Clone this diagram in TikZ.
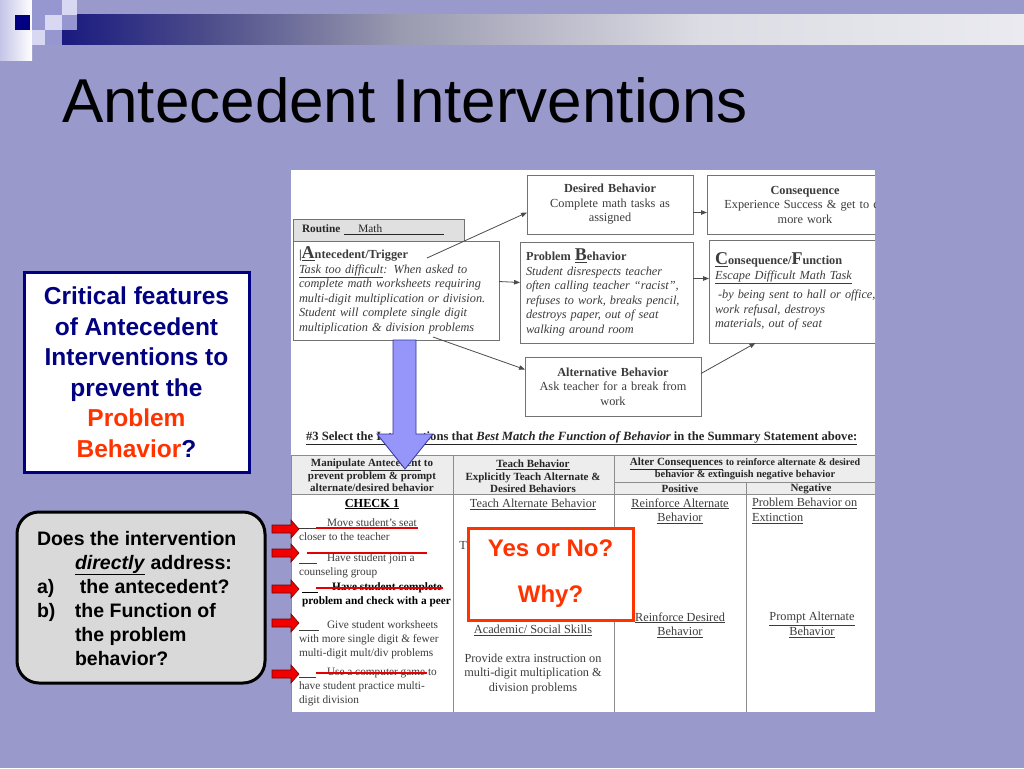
\documentclass[tikz,border=0pt]{standalone}
\usepackage{fontspec}
\setmainfont{Liberation Sans}
\newfontfamily\sheetserif[Ligatures=TeX]{Liberation Serif}
\usetikzlibrary{arrows.meta}

\definecolor{slidebg}{RGB}{153,153,204}
\definecolor{navytxt}{RGB}{0,0,128}
\definecolor{hotred}{RGB}{255,51,0}
\definecolor{arrowblue}{RGB}{150,150,250}
\definecolor{sheetgray}{RGB}{60,60,60}
\definecolor{lavlight}{RGB}{196,196,232}
\definecolor{lavmid}{RGB}{150,150,208}
\definecolor{lavpale}{RGB}{216,216,242}
\definecolor{bandA}{RGB}{26,26,128}
\definecolor{bandB}{RGB}{74,74,138}
\definecolor{bandC}{RGB}{154,154,176}
\definecolor{bandD}{RGB}{220,220,228}
\definecolor{bandE}{RGB}{234,234,240}

\newcommand{\sheetsize}{\fontsize{12.3}{14.5}\selectfont}
\newcommand{\itemsize}{\fontsize{11.3}{14}\selectfont}
\newcommand{\headsize}{\fontsize{11}{12.6}\selectfont}
\newcommand{\bigletter}[1]{{\fontsize{18}{14}\selectfont #1}}

\begin{document}
\begin{tikzpicture}[x=1pt, y=-1pt,
  every node/.style={inner sep=0pt, outer sep=0pt},
  sheetbox/.style={draw=black!55, line width=0.8pt, fill=white},
  sheettext/.style={font=\sheetserif\sheetsize, text=sheetgray},
  itemtext/.style={font=\sheetserif\itemsize, text=sheetgray, anchor=north west, align=left},
  headtext/.style={font=\sheetserif\headsize\bfseries, text=black!85, align=center},
  flowarrow/.style={draw=black!70, line width=0.8pt, -{Triangle[length=6pt,width=4.5pt]}},
  gridline/.style={draw=black!45, line width=0.8pt},
  strikeout/.style={draw=red!90!black, line width=2.4pt},
  redpointer/.style={fill=red!95!black, draw=red!45!black, line width=0.6pt},
  bluepointer/.style={fill=arrowblue, draw=navytxt!80, line width=0.8pt}]

\useasboundingbox (0,0) rectangle (1024,768);
\fill[slidebg] (0,0) rectangle (1024,768);

% corner blocks
\shade[left color=lavlight, right color=white] (0,0) rectangle (32,60);
\shade[left color=bandA, right color=bandB] (62,15) rectangle (200,45);
\shade[left color=bandB, right color=bandC] (200,15) rectangle (400,45);
\shade[left color=bandC, right color=bandD] (400,15) rectangle (700,45);
\shade[left color=bandD, right color=bandE] (700,15) rectangle (1024,45);
\fill[navytxt] (15,15) rectangle (30,30);
\fill[lavmid] (32,0) rectangle (62,15);
\fill[lavpale] (62,0) rectangle (77,15);
\fill[lavmid] (32,15) rectangle (45,30);
\fill[lavpale] (45,15) rectangle (62,30);
\fill[lavmid] (62,15) rectangle (77,30);
\fill[lavpale] (32,30) rectangle (45,45);
\fill[lavmid] (45,30) rectangle (62,45);

\node[anchor=base west, font=\fontsize{62}{70}\selectfont] (title) at (62,122) {Antecedent Interventions};

% worksheet
\fill[white] (291,170) rectangle (875,712);
\begin{scope}
\clip (291,170) rectangle (875,712);

\node[sheetbox, fill=black!12, anchor=north west, minimum width=171pt, minimum height=22pt, inner xsep=9pt, text width=153pt, align=left, font=\sheetserif\itemsize, text=black!85] (routine) at (293,219)
  {\textbf{Routine}\hspace{4pt}\underline{\hspace{14pt}Math\hspace{62pt}}};
\node[sheetbox, anchor=north west, minimum width=206pt, minimum height=99pt, inner xsep=6pt, text width=194pt, align=left, font=\sheetserif\sheetsize\itshape, text=sheetgray] (antecedent) at (293,241)
  {{\upshape\bfseries\textbar\underline{\bigletter{A}}ntecedent/Trigger}\\
   \underline{Task too difficult}: When asked to\\
   complete math worksheets requiring\\
   multi-digit multiplication or division.\\
   Student will complete single digit\\
   multiplication \& division problems};
\node[sheetbox, anchor=north west, minimum width=166pt, minimum height=59pt, text width=158pt, align=center, font=\sheetserif\sheetsize, text=sheetgray] (desired) at (527,175)
  {{\bfseries Desired Behavior}\\Complete math tasks as\\assigned};
\node[sheetbox, anchor=north west, minimum width=196pt, minimum height=59pt, text width=188pt, align=center, font=\sheetserif\sheetsize, text=sheetgray] (conseq) at (707,175)
  {{\bfseries Consequence}\\Experience Success \& get to do\\more work};
\node[sheetbox, anchor=north west, minimum width=173pt, minimum height=101pt, inner xsep=6pt, text width=161pt, align=left, font=\sheetserif\sheetsize\itshape, text=sheetgray] (problem) at (520,242)
  {{\upshape\bfseries Problem \underline{\bigletter{B}}ehavior}\\
   Student disrespects teacher\\
   often calling teacher “racist”,\\
   refuses to work, breaks pencil,\\
   destroys paper, out of seat\\
   walking around room};
\node[sheetbox, anchor=north west, minimum width=195pt, minimum height=103pt, inner xsep=6pt, text width=183pt, align=left, font=\sheetserif\sheetsize\itshape, text=sheetgray] (consfun) at (709,240)
  {{\upshape\bfseries\underline{\bigletter{C}}onsequence/\bigletter{F}unction}\\
   \underline{Escape Difficult Math Task}\\[5pt]
   \hspace*{3pt}-by being sent to hall or office,\\
   work refusal, destroys\\
   materials, out of seat};
\node[sheetbox, anchor=north west, minimum width=176pt, minimum height=59pt, text width=168pt, align=center, font=\sheetserif\sheetsize, text=sheetgray] (alt) at (525,357)
  {{\bfseries Alternative Behavior}\\Ask teacher for a break from\\work};

\coordinate (antend) at (427,258);
\coordinate (antlow) at (433,337);
\draw[flowarrow] (antend) -- ([yshift=-8pt]desired.west);
\draw[flowarrow] ([yshift=9pt]antecedent.east) -- ([yshift=10pt]problem.west);
\draw[flowarrow] ([yshift=-8pt]desired.east) -- ([yshift=-8pt]conseq.west);
\draw[flowarrow] ([yshift=14pt]problem.east) -- ([yshift=13pt]consfun.west);
\draw[flowarrow] (antlow) -- ([yshift=17pt]alt.west);
\draw[flowarrow] ([yshift=13pt]alt.east) -- ([xshift=-51pt]consfun.south);

\node[anchor=base west, font=\sheetserif\fontsize{12.6}{14}\selectfont\bfseries, text=black!85] (select) at (306,440)
  {\underline{\#3 Select the Interventions that \textit{Best Match the Function of Behavior} in the Summary Statement above:}};

% table
\fill[black!7] (291,455) rectangle (875,494);
\draw[gridline] (291,455) -- (875,455);
\draw[gridline] (614,482) -- (875,482);
\draw[gridline] (291,494) -- (875,494);
\draw[gridline] (291,455) -- (291,712);
\draw[gridline] (453,455) -- (453,712);
\draw[gridline] (614,455) -- (614,712);
\draw[gridline] (746,482) -- (746,712);

\node[headtext] (manip) at (372,475.5) {\underline{Manipulate Antecedent} to\\prevent problem \& prompt\\alternate/desired behavior};
\node[headtext] (teach) at (533,476.5) {\underline{Teach Behavior}\\Explicitly Teach Alternate \&\\Desired Behaviors};
\node[headtext] (alter) at (745,469) {\underline{Alter Consequences} {\fontsize{10}{12}\selectfont to reinforce alternate \& desired}\\{\fontsize{10.4}{12}\selectfont behavior \& extinguish negative behavior}};
\node[headtext] (positive) at (680,488.5) {Positive};
\node[headtext] (negative) at (811,488.5) {Negative};

\node[font=\sheetserif\fontsize{12.3}{14}\selectfont\bfseries] (check) at (372,504) {\underline{CHECK 1}};
\node[itemtext] (item1) at (299,519) {\underline{\hspace{17pt}}\hspace{11pt}Move student's seat\\closer to the teacher};
\node[itemtext] (item2) at (299,554) {\underline{\hspace{18pt}}\hspace{10pt}Have student join a\\counseling group};
\node[itemtext, font=\sheetserif\itemsize\bfseries, text=black] (item3) at (302,583) {\underline{\hspace{16pt}}\hspace{14pt}Have student complete\\problem and check with a peer};
\node[itemtext] (item4) at (299,621) {\underline{\hspace{20pt}}\hspace{8pt}Give student worksheets\\with more single digit \& fewer\\multi-digit mult/div problems};
\node[itemtext] (item5) at (299,668) {\underline{\hspace{17pt}}\hspace{11pt}Use a computer game to\\have student practice multi-\\digit division};

\node[sheettext] (teachalt) at (533,504) {\underline{Teach Alternate Behavior}};
\node[sheettext] (hiddenT) at (463,545) {T};
\node[sheettext] (skills) at (533,630) {\underline{Academic/ Social Skills}};
\node[sheettext, align=center] (extra) at (533,674) {Provide extra instruction on\\multi-digit multiplication \&\\division problems};
\node[sheettext, align=center] (reinalt) at (680,511) {\underline{Reinforce Alternate}\\\underline{Behavior}};
\node[sheettext, align=center] (reindes) at (680,625) {\underline{Reinforce Desired}\\\underline{Behavior}};
\node[sheettext, align=left, anchor=west] (extinct) at (752,511) {\underline{Problem Behavior on}\\\underline{Extinction}};
\node[sheettext, align=center] (prompt) at (812,625) {\underline{Prompt Alternate}\\\underline{Behavior}};
\end{scope}

% marks on the worksheet
\draw[strikeout] (316,528) -- (418,528);
\draw[strikeout] (307,553) -- (427,553);
\draw[strikeout] (316,588) -- (443,588);
\draw[strikeout] (316,673) -- (427,673);
\foreach \ry in {529,553,589,623,674}
  \filldraw[redpointer] (272,\ry-4) -- (291,\ry-4) -- (291,\ry-9) -- (299,\ry) -- (291,\ry+9) -- (291,\ry+4) -- (272,\ry+4) -- cycle;
\filldraw[bluepointer] (393,340) -- (416,340) -- (416,434) -- (433,434) -- (405,469) -- (377,434) -- (393,434) -- cycle;

\node[draw=hotred, line width=3pt, fill=white, minimum width=165pt, minimum height=92pt, align=center, font=\bfseries\fontsize{24}{46}\selectfont, text=hotred] (yesno) at (550.5,574) {Yes or No?\\Why?};

% left panels
\node[draw=navytxt, line width=3pt, fill=white, minimum width=225pt, minimum height=200pt, align=center, font=\bfseries\fontsize{24.5}{30.5}\selectfont, text=navytxt] (critical) at (136.5,372)
  {Critical features\\of Antecedent\\Interventions to\\prevent the\\\textcolor{hotred}{Problem}\\\textcolor{hotred}{Behavior}?};
\node[draw=black, line width=3pt, fill=black!15, rounded corners=22pt, minimum width=248pt, minimum height=171pt] (question) at (141,597.5) {};
\node[anchor=north west, align=left, font=\bfseries\fontsize{19.5}{24}\selectfont] (questxt) at (37,531)
  {Does the intervention\\
   \hspace*{38pt}\underline{\textit{directly}} address:\\
   \makebox[43pt][l]{a)}the antecedent?\\
   \makebox[38pt][l]{b)}the Function of\\
   \hspace*{38pt}the problem\\
   \hspace*{38pt}behavior?};
\end{tikzpicture}
\end{document}
